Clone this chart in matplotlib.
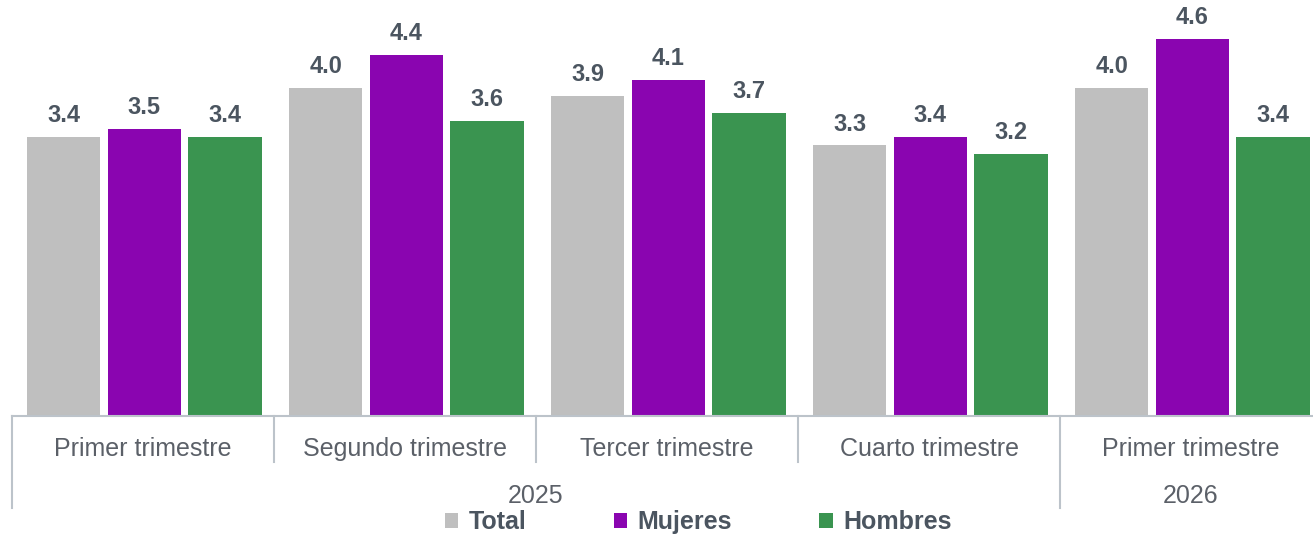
"""
Tasa por trimestre: Total / Mujeres / Hombres (barras agrupadas con eje jerárquico)
"""

import matplotlib
matplotlib.use('Agg')
import matplotlib.pyplot as plt
from matplotlib.patches import Patch
import numpy as np

# datos
quarters = ["Primer trimestre", "Segundo trimestre", "Tercer trimestre",
            "Cuarto trimestre", "Primer trimestre"]
years = ["2025", "2026"]
year_span = [(0, 4), (4, 5)]   # grupos que cubre cada año
series_names = ["Total", "Mujeres", "Hombres"]
total = [3.4, 4.0, 3.9, 3.3, 4.0]
mujeres = [3.5, 4.4, 4.1, 3.4, 4.6]
hombres = [3.4, 3.6, 3.7, 3.2, 3.4]

colors = ["#BFBFBF", "#8A05B0", "#3A9450"]
label_color = "#4B5560"
axis_text_color = "#5B6068"
line_color = "#BCC3CA"

plt.rcParams['font.family'] = ['Liberation Sans', 'DejaVu Sans']

W, H = 1313, 537
fig = plt.figure(figsize=(W / 100, H / 100), dpi=100)
# eje: borde izq. en x=12px, base en y=416px, 262px por grupo (se corta a la derecha)
ax = fig.add_axes([12 / W, (H - 416) / H, 5 * 262 / W, 416 / H])

x = np.arange(len(quarters)) + 0.5
offsets = [-0.303, 0.005, 0.313]
bar_w = 0.279
for vals, off, col, name in zip([total, mujeres, hombres], offsets, colors, series_names):
    bars = ax.bar(x + off, vals, width=bar_w, color=col, label=name)
    for b, v in zip(bars, vals):
        ax.annotate(f"{v:.1f}", (b.get_x() + b.get_width() / 2, b.get_height()),
                    xytext=(0, 7), textcoords="offset points",
                    ha="center", va="bottom", fontsize=17, fontweight="bold",
                    color=label_color)

ax.set_xlim(0, len(quarters))
ax.set_ylim(0, 416 / 82)
for s in ["top", "right", "left"]:
    ax.spines[s].set_visible(False)
ax.spines["bottom"].set_color(line_color)
ax.spines["bottom"].set_linewidth(1.5)
ax.set_yticks([])
ax.set_xticks([])

# eje jerárquico
tr = ax.get_xaxis_transform()
short_y = -46 / 416
long_y = -92 / 416
year_starts = {a for a, b in year_span}
for i in range(len(quarters)):
    y_end = long_y if i in year_starts else short_y
    ax.plot([i, i], [0, y_end], transform=tr, color=line_color, lw=1.5,
            clip_on=False)
for i, q in enumerate(quarters):
    ax.text(i + 0.5, -33 / 416, q, transform=tr, ha="center", va="center",
            fontsize=18, color=axis_text_color)
for yr, (a, b) in zip(years, year_span):
    ax.text((a + b) / 2, -80 / 416, yr, transform=tr, ha="center", va="center",
            fontsize=18, color=axis_text_color)

handles = [Patch(facecolor=c, edgecolor="none", label=n) for c, n in zip(colors, series_names)]
leg = fig.legend(handles=handles, loc="center", bbox_to_anchor=(698 / W, 15 / H),
                 ncol=3, frameon=False, handlelength=0.55, handleheight=0.55,
                 handletextpad=0.4, columnspacing=3.5, borderpad=0,
                 prop={"size": 18, "weight": "bold"})
for t in leg.get_texts():
    t.set_color(label_color)

plt.savefig("out.png", dpi=100)
plt.close()
